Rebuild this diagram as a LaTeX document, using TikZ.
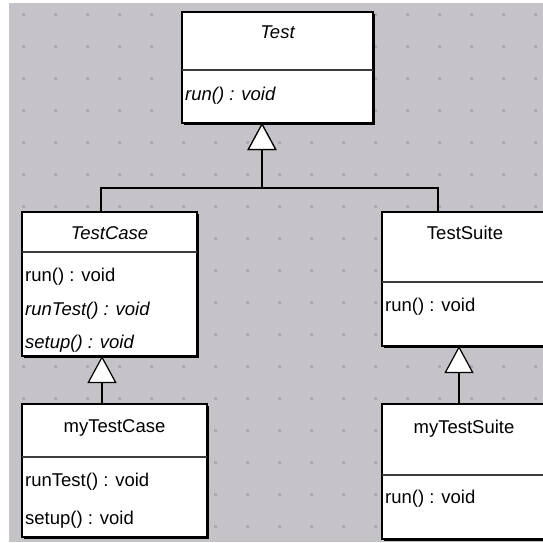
\documentclass[tikz,border=0pt]{standalone}
\usepackage{fontspec}
\setmainfont{Liberation Sans}
\usetikzlibrary{arrows.meta,shadows}
\definecolor{canvas}{RGB}{197,195,199}
\definecolor{griddot}{RGB}{172,170,175}
\definecolor{divider}{RGB}{60,60,60}
\tikzset{
  classbox/.style={draw=black, line width=1.2pt, fill=white, anchor=north west,
    inner sep=0pt, outer sep=0pt,
    drop shadow={shadow xshift=2pt, shadow yshift=-2pt, fill=black, opacity=1}},
  title/.style={anchor=base, inner sep=0pt, font=\fontsize{18.5}{22}\selectfont},
  member/.style={anchor=base west, inner sep=0pt, font=\fontsize{18.5}{22}\selectfont},
  gen/.style={draw=black, line width=1.3pt,
    -{Triangle[width=29pt, length=27pt, fill=white, line width=1.2pt]}},
  divline/.style={draw=divider, line width=1.5pt}
}
\begin{document}
\begin{tikzpicture}[x=1pt, y=-1pt]
  \useasboundingbox (0,0) rectangle (543,542);
  \clip (0,0) rectangle (543,542);
  % canvas and its dot grid
  \fill[white] (0,0) rectangle (543,542);
  \fill[canvas] (9,3) rectangle (543,542);
  \foreach \gx in {23,55,...,543} {
    \foreach \gy in {14,46,...,542} {
      \fill[griddot] (\gx-1.5,\gy-1.5) rectangle (\gx+1.5,\gy+1.5);
    }
  }

  % class boxes
  \node[classbox, minimum width=191pt, minimum height=111pt] (test) at (182,12) {};
  \node[classbox, minimum width=175pt, minimum height=144pt] (tcase) at (22,212) {};
  \node[classbox, minimum width=185pt, minimum height=133pt] (mycase) at (22,404) {};
  \node[classbox, minimum width=166pt, minimum height=134pt] (tsuite) at (382,212) {};
  \node[classbox, minimum width=166pt, minimum height=135pt] (mysuite) at (382,404) {};

  % compartment dividers
  \draw[divline] (182,70) -- (373,70);
  \draw[divline] (22,252) -- (197,252);
  \draw[divline] (22,457) -- (207,457);
  \draw[divline] (382,282) -- (548,282);
  \draw[divline] (382,475) -- (548,475);

  % Test
  \node[title] (testname) at (277.5,38.5) {\itshape Test};
  \node[member] (testrun) at (185,100) {\itshape run() : void};

  % TestCase
  \node[title] (tcasename) at (109.5,239) {\itshape TestCase};
  \node[member] (tcaserun) at (25,281) {run() : void};
  \node[member] (tcaseruntest) at (25,315) {\itshape runTest() : void};
  \node[member] (tcasesetup) at (25,348) {\itshape setup() : void};

  % myTestCase
  \node[title] (mycasename) at (114.5,432) {myTestCase};
  \node[member] (mycaseruntest) at (25,486) {runTest() : void};
  \node[member] (mycasesetup) at (25,524) {setup() : void};

  % TestSuite
  \node[title] (tsuitename) at (465,239) {TestSuite};
  \node[member] (tsuiterun) at (385,311) {run() : void};

  % myTestSuite
  \node[title] (mysuitename) at (464,433) {myTestSuite};
  \node[member] (mysuiterun) at (385,503) {run() : void};

  % generalisation connectors
  \draw[gen] ([xshift=79pt]tcase.north west) |- ([xshift=80pt, yshift=-65pt]test.south west)
             -- ([xshift=80pt]test.south west);
  \draw[gen] ([xshift=56pt]tsuite.north west) |- ([xshift=80pt, yshift=-65pt]test.south west)
             -- ([xshift=80pt]test.south west);
  \draw[gen] ([xshift=80pt]mycase.north west) -- ([xshift=80pt]tcase.south west);
  \draw[gen] ([xshift=77pt]mysuite.north west) -- ([xshift=77pt]tsuite.south west);
\end{tikzpicture}
\end{document}
